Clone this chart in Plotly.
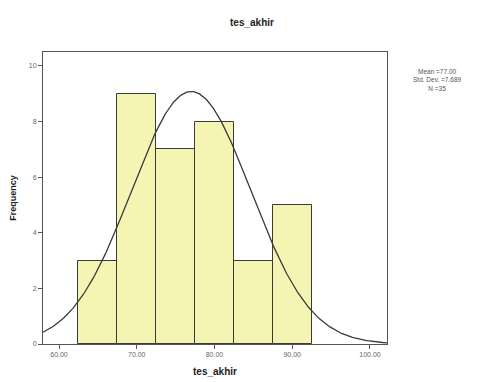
import numpy as np
import plotly.graph_objects as go

bin_centers = [65, 70, 75, 80, 85, 90]
counts = [3, 9, 7, 8, 3, 5]
bin_width = 5
mean_val = 77.00
std_val = 7.689
n_val = 35
x_ticks = [60, 70, 80, 90, 100]
y_ticks = [0, 2, 4, 6, 8, 10]

# page body has 8px default margin; size figure to fit window
W, H = 476, 374
L, R, T, B = 35, 97, 44, 38
pl, pr, pt, pb = 8 + L, 8 + W - R, 8 + T, 8 + H - B  # plot area in window pixels

fig = go.Figure()
fig.add_trace(go.Bar(
    x=bin_centers, y=counts, width=bin_width,
    marker=dict(color="#F6F4B2", line=dict(color="#3a3a3a", width=1)),
    showlegend=False,
))

xs = np.linspace(57.94, 102.19, 300)
ys = n_val * bin_width / (std_val * np.sqrt(2 * np.pi)) * np.exp(-0.5 * ((xs - mean_val) / std_val) ** 2)
fig.add_trace(go.Scatter(x=xs, y=ys, mode="lines",
                         line=dict(color="#3a3a3a", width=1.3), showlegend=False))

fig.update_layout(
    width=W, height=H,
    margin=dict(l=L, r=R, t=T, b=B),
    paper_bgcolor="white", plot_bgcolor="white",
    font=dict(family="Liberation Sans, Arial, sans-serif", color="#333"),
    title=dict(text="<b>tes_akhir</b>", x=(252 - 8) / W, xanchor="center",
               y=1 - (22 - 8) / H, yanchor="middle",
               font=dict(size=10, color="#222")),
    bargap=0,
    annotations=[dict(
        text=f"Mean ={mean_val:.2f}<br>Std. Dev. ={std_val:.3f}<br>N ={n_val}",
        xref="paper", yref="paper", showarrow=False,
        x=(437 - pl) / (pr - pl), y=(pb - 80) / (pb - pt),
        xanchor="center", yanchor="middle",
        font=dict(size=6.5, color="#555"), align="center",
    )],
)

fig.update_xaxes(
    range=[57.94, 102.19], tickvals=x_ticks,
    ticktext=[f"{v:.2f}" for v in x_ticks],
    ticks="outside", ticklen=4, tickcolor="#555",
    showline=True, linecolor="#555", linewidth=1, mirror=True,
    showgrid=False, zeroline=False, automargin=False,
    tickfont=dict(size=7, color="#666"),
    title=dict(text="<b>tes_akhir</b>", font=dict(size=10, color="#222"), standoff=10),
)
fig.update_yaxes(
    range=[0, 10.5], tickvals=y_ticks,
    ticks="outside", ticklen=4, tickcolor="#555",
    showline=True, linecolor="#555", linewidth=1, mirror=True,
    showgrid=False, zeroline=False, automargin=False,
    tickfont=dict(size=7, color="#666"),
    title=dict(text="<b>Frequency</b>", font=dict(size=9, color="#222"), standoff=12),
)

fig.write_html("out.html")
